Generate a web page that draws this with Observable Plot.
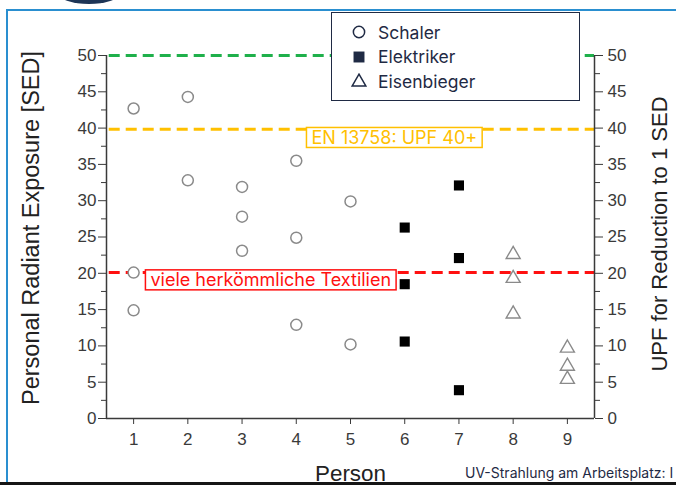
<!DOCTYPE html>
<html><head><meta charset="utf-8">
<script src="https://cdn.jsdelivr.net/npm/d3@7"></script>
<script src="https://cdn.jsdelivr.net/npm/@observablehq/plot@0.6"></script>
<style>
html,body{margin:0;padding:0;background:#fff;}
#stage{position:relative;width:676px;height:485px;overflow:hidden;background:#fff;}
#chart{position:absolute;left:0;top:0;}
.frame-top{position:absolute;left:6px;top:9px;width:680px;height:2px;background:#2a8fd0;}
.frame-left{position:absolute;left:6px;top:9px;width:2px;height:476px;background:#2a8fd0;}
.frame-bottom{position:absolute;left:0;top:482px;width:676px;height:3px;background:#151515;}
.blob{position:absolute;left:59px;top:-16px;width:60px;height:20px;border-radius:50%;background:#1d3557;}
#legend{position:absolute;left:331px;top:12px;width:247px;height:87px;border:1.5px solid #1f2a44;background:#fff;box-sizing:content-box;}
.item{position:absolute;left:0;height:24px;display:flex;align-items:center;font-family:Inter,"Noto Sans",sans-serif;font-size:17.5px;color:#1f2a44;}
.item svg{margin-left:19px;margin-right:11px;}
#footer{position:absolute;left:465px;top:464px;white-space:nowrap;font-family:Inter,"Noto Sans",sans-serif;font-size:14px;color:#1f2a44;}
</style></head><body>
<div id="stage">
  <div id="chart"></div>
  <div class="blob"></div>
  <div class="frame-top"></div>
  <div class="frame-left"></div>
  <div class="frame-bottom"></div>
  <div id="legend"></div>
  <div id="footer">UV-Strahlung am Arbeitsplatz: I</div>
</div>
<script>
// ---- data ----
const persons = [1, 2, 3, 4, 5, 6, 7, 8, 9];
const seriesNames = ["Schaler", "Elektriker", "Eisenbieger"];
const schalerPerson = [1, 1, 1, 2, 2, 3, 3, 3, 4, 4, 4, 5, 5];
const schalerValues = [42.7, 20.1, 14.9, 44.3, 32.8, 31.9, 27.8, 23.1, 35.5, 24.9, 12.9, 29.9, 10.2];
const elektrikerPerson = [6, 6, 6, 7, 7, 7];
const elektrikerValues = [26.3, 18.5, 10.6, 32.1, 22.1, 3.9];
const eisenbiegerPerson = [8, 8, 8, 9, 9, 9];
const eisenbiegerValues = [22.6, 19.3, 14.4, 9.7, 7.2, 5.4];
const yTicks = [0, 5, 10, 15, 20, 25, 30, 35, 40, 45, 50];
const yMinorTicks = [2.5, 7.5, 12.5, 17.5, 22.5, 27.5, 32.5, 37.5, 42.5, 47.5];
const referenceLevels = [50, 39.85, 20.1];
const annotationLabels = ["EN 13758: UPF 40+", "viele herkömmliche Textilien"];

const schaler = schalerPerson.map((p, i) => ({person: p, value: schalerValues[i]}));
const elektriker = elektrikerPerson.map((p, i) => ({person: p, value: elektrikerValues[i]}));
const eisenbieger = eisenbiegerPerson.map((p, i) => ({person: p, value: eisenbiegerValues[i]}));

const green = "#1fb04b", orange = "#ffc000", red = "#ff1010";
const axisColor = "#3a3a3a";
const annoFont = "Inter, 'Noto Sans', sans-serif";

const chart = Plot.plot({
  width: 676,
  height: 485,
  marginLeft: 106,
  marginRight: 82,
  marginTop: 55,
  marginBottom: 67,
  style: {fontFamily: "'Liberation Sans', Arial, sans-serif", background: "transparent", overflow: "visible"},
  x: {domain: [0.5, 9.5], label: null},
  y: {domain: [0, 50], label: null},
  marks: [
    // reference lines
    Plot.ruleY([referenceLevels[0]], {stroke: green, strokeWidth: 3, strokeDasharray: "11,6", x1: 0.55, x2: 9.5}),
    Plot.ruleY([referenceLevels[1]], {stroke: orange, strokeWidth: 3, strokeDasharray: "11,6", x1: 0.55, x2: 9.5}),
    Plot.ruleY([referenceLevels[2]], {stroke: red, strokeWidth: 3, strokeDasharray: "11,6", x1: 0.55, x2: 9.5}),
    // axes
    Plot.axisY({anchor: "left", ticks: yTicks, tickSize: 8, tickPadding: 2, fontSize: 17, color: axisColor, label: null}),
    Plot.axisY({anchor: "left", ticks: yMinorTicks, tickSize: 5, tickFormat: () => "", color: axisColor, label: null}),
    Plot.axisY({anchor: "right", ticks: yTicks, tickSize: 8, tickPadding: 5, fontSize: 17, color: axisColor, label: null}),
    Plot.axisY({anchor: "right", ticks: yMinorTicks, tickSize: 5, tickFormat: () => "", color: axisColor, label: null}),
    Plot.axisX({ticks: persons, tickSize: 6, tickPadding: 8, fontSize: 17, color: axisColor, label: null}),
    Plot.ruleX([0.5], {stroke: axisColor, strokeWidth: 1.5}),
    Plot.ruleX([9.5], {stroke: axisColor, strokeWidth: 1.5}),
    Plot.ruleY([0], {stroke: axisColor, strokeWidth: 1.5}),
    // axis titles
    Plot.text(["Personal Radiant Exposure [SED]"], {frameAnchor: "left", textAnchor: "middle", rotate: -90, dx: -75, dy: -9, fontSize: 23.5, fill: "#222"}),
    Plot.text(["UPF for Reduction to 1 SED"], {frameAnchor: "right", textAnchor: "middle", rotate: -90, dx: 65, dy: -3, fontSize: 22, fill: "#222"}),
    Plot.text(["Person"], {frameAnchor: "bottom", lineAnchor: "bottom", dy: 62, fontSize: 22.4, fill: "#222"}),
    // annotations
    Plot.text([annotationLabels[0]], {x: () => 4.28, y: () => referenceLevels[1], textAnchor: "start", lineAnchor: "top", dy: 2, fontSize: 18, fill: orange, fontFamily: annoFont, className: "anno-orange"}),
    Plot.text([annotationLabels[1]], {x: () => 1.31, y: () => referenceLevels[2], textAnchor: "start", lineAnchor: "top", dy: 1, fontSize: 18, fill: red, fontFamily: annoFont, className: "anno-red"}),
    // data
    Plot.dot(schaler, {x: "person", y: "value", symbol: "circle", r: 5.5, stroke: "#8a8a8a", strokeWidth: 1.5, fill: "white"}),
    Plot.dot(elektriker, {x: "person", y: "value", symbol: "square", r: 5.7, fill: "#000", stroke: "none"}),
    Plot.dot(eisenbieger, {x: "person", y: "value", symbol: "triangle", r: 5.2, stroke: "#8a8a8a", strokeWidth: 1.4, fill: "white"})
  ]
});
document.getElementById("chart").appendChild(chart);

// boxes around the annotations
function boxify(cls, color) {
  d3.select(chart).selectAll("." + cls + " text").each(function () {
    const b = this.getBBox();
    const r = document.createElementNS("http://www.w3.org/2000/svg", "rect");
    r.setAttribute("x", b.x - 5);
    r.setAttribute("y", b.y + 0.5);
    r.setAttribute("width", b.width + 10);
    r.setAttribute("height", b.height - 1);
    r.setAttribute("fill", "white");
    r.setAttribute("stroke", color);
    r.setAttribute("stroke-width", 1.5);
    const t = this.getAttribute("transform");
    if (t) r.setAttribute("transform", t);
    this.parentNode.insertBefore(r, this);
  });
}
boxify("anno-orange", orange);
boxify("anno-red", red);

// legend
const navy = "#1f2a44";
const legendSymbols = [d3.symbolCircle, d3.symbolSquare, d3.symbolTriangle];
const legendFill = ["none", navy, "none"];
const legendSize = [100, 120, 80];
const legend = d3.select("#legend");
seriesNames.forEach((name, i) => {
  const item = legend.append("div").attr("class", "item").style("top", (7 + i * 24.5) + "px");
  const s = item.append("svg").attr("width", 16).attr("height", 16);
  s.append("path")
    .attr("transform", "translate(8," + (i === 2 ? 9 : 8) + ")")
    .attr("d", d3.symbol(legendSymbols[i], legendSize[i])())
    .attr("fill", legendFill[i])
    .attr("stroke", navy)
    .attr("stroke-width", i === 1 ? 0 : 1.5);
  item.append("span").text(name);
});
</script>
</body></html>
